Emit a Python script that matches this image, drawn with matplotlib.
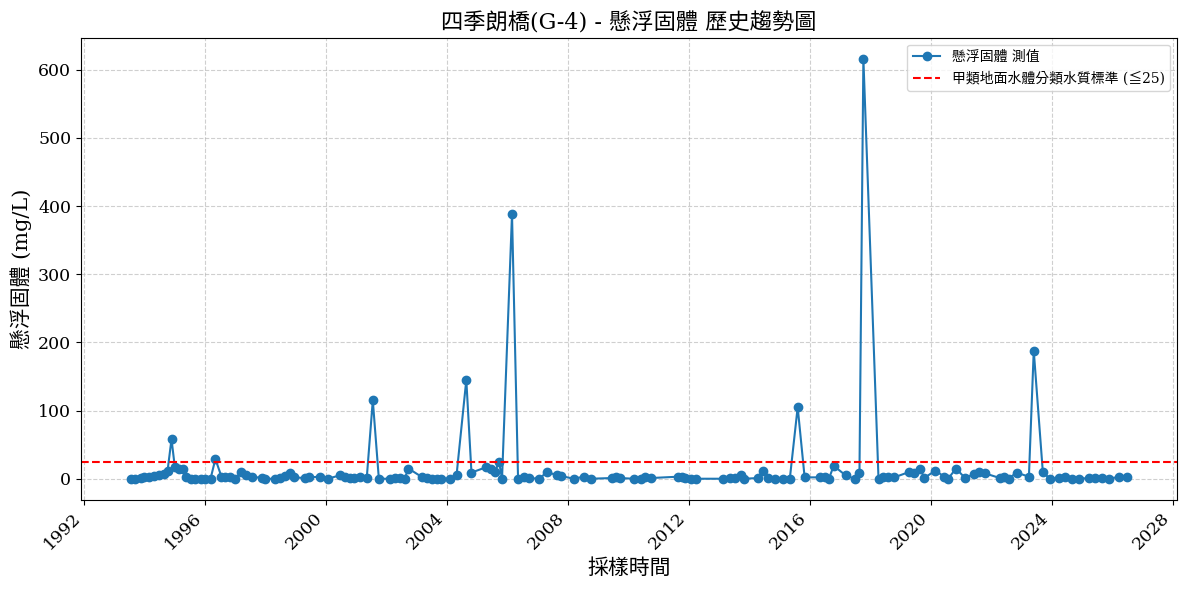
import numpy as np
import pandas as pd
import matplotlib
matplotlib.use("Agg")
import matplotlib.pyplot as plt
import matplotlib.dates as mdates

plt.rcParams['font.family'] = ['DejaVu Serif', 'Noto Sans CJK TC', 'DejaVu Sans']
plt.rcParams['axes.unicode_minus'] = False

# sampling time as decimal year
sample_year = [
    1993.55, 1993.68, 1993.88, 1993.98, 1994.14, 1994.31, 1994.47, 1994.64, 1994.77, 1994.90,
    1995.01, 1995.14, 1995.27, 1995.37, 1995.53, 1995.69, 1995.86, 1996.02, 1996.19, 1996.35,
    1996.55, 1996.68, 1996.84, 1997.01, 1997.20, 1997.37, 1997.56, 1997.90, 1998.00, 1998.33,
    1998.49, 1998.66, 1998.80, 1998.95, 1999.31, 1999.44, 1999.80, 2000.07, 2000.46, 2000.62,
    2000.80, 2000.93, 2001.12, 2001.35, 2001.55, 2001.75, 2002.11, 2002.27, 2002.44, 2002.60,
    2002.73, 2003.19, 2003.35, 2003.52, 2003.68, 2003.81, 2004.09, 2004.32, 2004.64, 2004.81,
    2005.30, 2005.46, 2005.59, 2005.72, 2005.82, 2006.15, 2006.35, 2006.54, 2006.71, 2007.05,
    2007.31, 2007.64, 2007.77, 2008.19, 2008.52, 2008.75, 2009.44, 2009.60, 2009.73, 2010.17,
    2010.40, 2010.56, 2010.73, 2011.65, 2011.78, 2011.88, 2012.07, 2012.24, 2013.13, 2013.36,
    2013.53, 2013.72, 2013.82, 2014.28, 2014.44, 2014.61, 2014.84, 2015.10, 2015.33, 2015.59,
    2015.82, 2016.32, 2016.49, 2016.62, 2016.78, 2017.17, 2017.47, 2017.63, 2017.76, 2018.26,
    2018.42, 2018.58, 2018.78, 2019.28, 2019.45, 2019.64, 2019.77, 2020.14, 2020.43, 2020.56,
    2020.82, 2021.12, 2021.41, 2021.58, 2021.77, 2022.27, 2022.40, 2022.56, 2022.82, 2023.23,
    2023.39, 2023.69, 2023.92, 2024.21, 2024.41, 2024.64, 2024.90, 2025.20, 2025.40, 2025.63,
    2025.89, 2026.22, 2026.48,
]
ss_value = [
    0, 0, 1, 2, 3, 4, 6, 7, 12, 58,
    17, 14, 14, 3, 0, 0, 0, 0, 0, 29,
    3, 3, 2, 0, 10, 5, 3, 1, 0, 0,
    1, 4, 8, 2, 1, 2, 3, 0, 5, 2,
    1, 1, 2, 1, 115, 0, 0, 1, 1, 0,
    15, 2, 1, 0, 0, 0, 0, 6, 145, 9,
    17, 14, 10, 25, 0, 388, 0, 3, 1, 0,
    10, 5, 4, 0, 3, 0, 1, 2, 1, 0,
    0, 2, 1, 3, 2, 1, 0, 0, 0, 1,
    1, 5, 0, 1, 12, 1, 0, 0, 0, 105,
    2, 2, 2, 0, 19, 5, 0, 8, 616, 0,
    2, 2, 2, 10, 8, 15, 1, 12, 3, 0,
    15, 1, 7, 10, 8, 1, 3, 0, 9, 3,
    188, 10, 0, 1, 3, 0, 0, 1, 1, 1,
    0, 3, 3,
]
standard = 25


def to_date(y):
    yr = int(y)
    start = pd.Timestamp(year=yr, month=1, day=1)
    end = pd.Timestamp(year=yr + 1, month=1, day=1)
    return start + (end - start) * (y - yr)


dates = [to_date(y) for y in sample_year]

fig, ax = plt.subplots(figsize=(11.89, 5.90), dpi=100)
ax.plot(dates, ss_value, marker='o', linestyle='-', color='#1f77b4',
        markersize=6, linewidth=1.5, label='懸浮固體 測值')
ax.axhline(standard, color='red', linestyle='--', linewidth=1.5,
           label='甲類地面水體分類水質標準 (≦25)')

ax.set_title('四季朗橋(G-4) - 懸浮固體 歷史趨勢圖', fontsize=16)
ax.set_xlabel('採樣時間', fontsize=15)
ax.set_ylabel('懸浮固體 (mg/L)', fontsize=15)
ax.xaxis.set_major_locator(mdates.YearLocator(4))
ax.xaxis.set_major_formatter(mdates.DateFormatter('%Y'))
ax.grid(True, linestyle='--', alpha=0.6)
ax.tick_params(axis='both', labelsize=12.5)
plt.setp(ax.get_xticklabels(), rotation=45, ha='right')
ax.legend(loc='upper right', fontsize=10)

fig.subplots_adjust(left=0.068, right=0.990, top=0.936, bottom=0.153)
plt.savefig('out.png', dpi=100)
